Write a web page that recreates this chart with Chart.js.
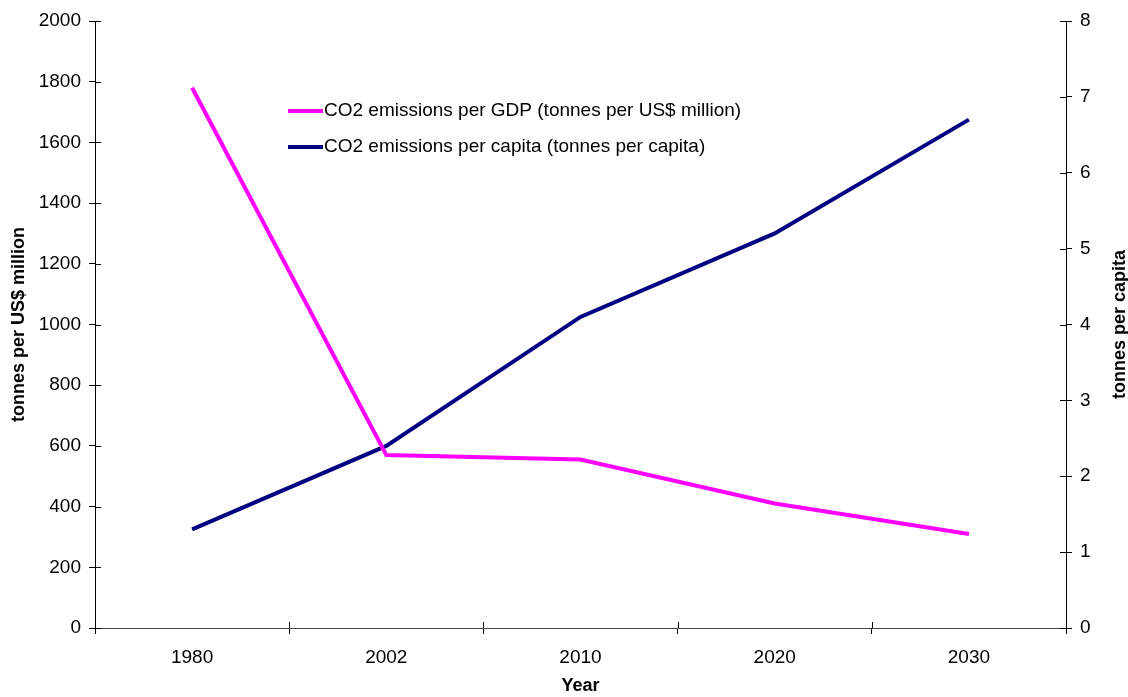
<!DOCTYPE html>
<html>
<head>
<meta charset="utf-8">
<title>CO2 emissions</title>
<script src="https://cdn.jsdelivr.net/npm/chart.js@4/dist/chart.umd.min.js"></script>
<style>
  html, body { margin: 0; padding: 0; background: #fff; }
  #wrap { width: 1128px; height: 697px; }
</style>
</head>
<body>
<div id="wrap"><canvas id="co2_chart"></canvas></div>
<script>
const years = ['1980', '2002', '2010', '2020', '2030'];
const perGdp = [1780, 570, 555, 410, 310];      // tonnes per US$ million
const perCapita = [1.3, 2.4, 4.1, 5.2, 6.7];    // tonnes per capita
const gdpLabel = 'CO2 emissions per GDP (tonnes per US$ million)';
const capitaLabel = 'CO2 emissions per capita (tonnes per capita)';

const FONT = '"Liberation Sans", Arial, sans-serif';
const TICK = 6;

// small ticks that cross the axis lines, plus legend and right title
const extras = {
    id: 'extras',
    afterDraw(c) {
        const ctx = c.ctx;
        const area = c.chartArea;
        ctx.save();
        ctx.strokeStyle = '#000';
        ctx.lineWidth = 1;
        ctx.beginPath();
        const yl = c.scales.y;
        yl.ticks.forEach((t, i) => {
            const py = Math.round(yl.getPixelForTick(i)) + 0.5;
            ctx.moveTo(area.left, py); ctx.lineTo(area.left + TICK, py);
        });
        const yr = c.scales.y2;
        yr.ticks.forEach((t, i) => {
            const py = Math.round(yr.getPixelForTick(i)) + 0.5;
            ctx.moveTo(area.right - TICK, py); ctx.lineTo(area.right, py);
        });
        const step = (area.right - area.left) / years.length;
        for (let i = 1; i < years.length; i++) {
            const px = Math.round(area.left + step * i) + 0.5;
            ctx.moveTo(px, area.bottom - TICK); ctx.lineTo(px, area.bottom);
        }
        ctx.stroke();

        // legend
        ctx.font = '19px ' + FONT;
        ctx.textBaseline = 'middle';
        ctx.fillStyle = '#000';
        c.data.datasets.forEach((ds, i) => {
            const ly = 111 + i * 36;
            ctx.strokeStyle = ds.borderColor;
            ctx.lineWidth = 4;
            ctx.beginPath();
            ctx.moveTo(288, ly); ctx.lineTo(323, ly);
            ctx.stroke();
            ctx.fillText(ds.label, 324, ly);
        });

        // right axis title, reading bottom to top
        ctx.font = 'bold 18px ' + FONT;
        ctx.textAlign = 'center';
        ctx.translate(1120, (area.top + area.bottom) / 2);
        ctx.rotate(-Math.PI / 2);
        ctx.fillText('tonnes per capita', 0, 0);
        ctx.restore();
    }
};

const ctx = document.getElementById('co2_chart').getContext('2d');
const chart = new Chart(ctx, {
    type: 'line',
    data: {
        labels: years,
        datasets: [{
            label: gdpLabel,
            data: perGdp,
            yAxisID: 'y',
            borderColor: '#FF00FF',
            borderWidth: 4,
            pointRadius: 0,
            tension: 0
        }, {
            label: capitaLabel,
            data: perCapita,
            yAxisID: 'y2',
            borderColor: '#000080',
            borderWidth: 4,
            pointRadius: 0,
            tension: 0
        }]
    },
    options: {
        responsive: true,
        maintainAspectRatio: false,
        animation: false,
        layout: { padding: { top: 21, left: 8 } },
        plugins: {
            legend: { display: false },
            tooltip: { enabled: false }
        },
        scales: {
            x: {
                type: 'category',
                offset: true,
                grid: { offset: true, drawOnChartArea: false, tickLength: TICK, color: '#000' },
                border: { color: '#444' },
                ticks: { color: '#000', font: { family: FONT, size: 19 }, padding: 12 },
                title: { display: true, text: 'Year', color: '#000', font: { family: FONT, size: 18, weight: 'bold' }, padding: { top: 0, bottom: 0 } },
                afterFit(s) { s.height = 69; }
            },
            y: {
                position: 'left',
                min: 0,
                max: 2000,
                ticks: { stepSize: 200, color: '#000', font: { family: FONT, size: 19 }, padding: 8, callback: v => String(v) },
                grid: { drawOnChartArea: false, tickLength: TICK, color: '#000' },
                border: { color: '#000' },
                title: { display: true, text: 'tonnes per US$ million', color: '#000', font: { family: FONT, size: 18, weight: 'bold' }, padding: 0 },
                afterFit(s) { s.width = 87; }
            },
            y2: {
                position: 'right',
                min: 0,
                max: 8,
                ticks: { stepSize: 1, color: '#000', font: { family: FONT, size: 19 }, padding: 8 },
                grid: { drawOnChartArea: false, tickLength: TICK, color: '#000' },
                border: { color: '#000' },
                afterFit(s) { s.width = 62; }
            }
        }
    },
    plugins: [extras]
});
</script>
</body>
</html>
